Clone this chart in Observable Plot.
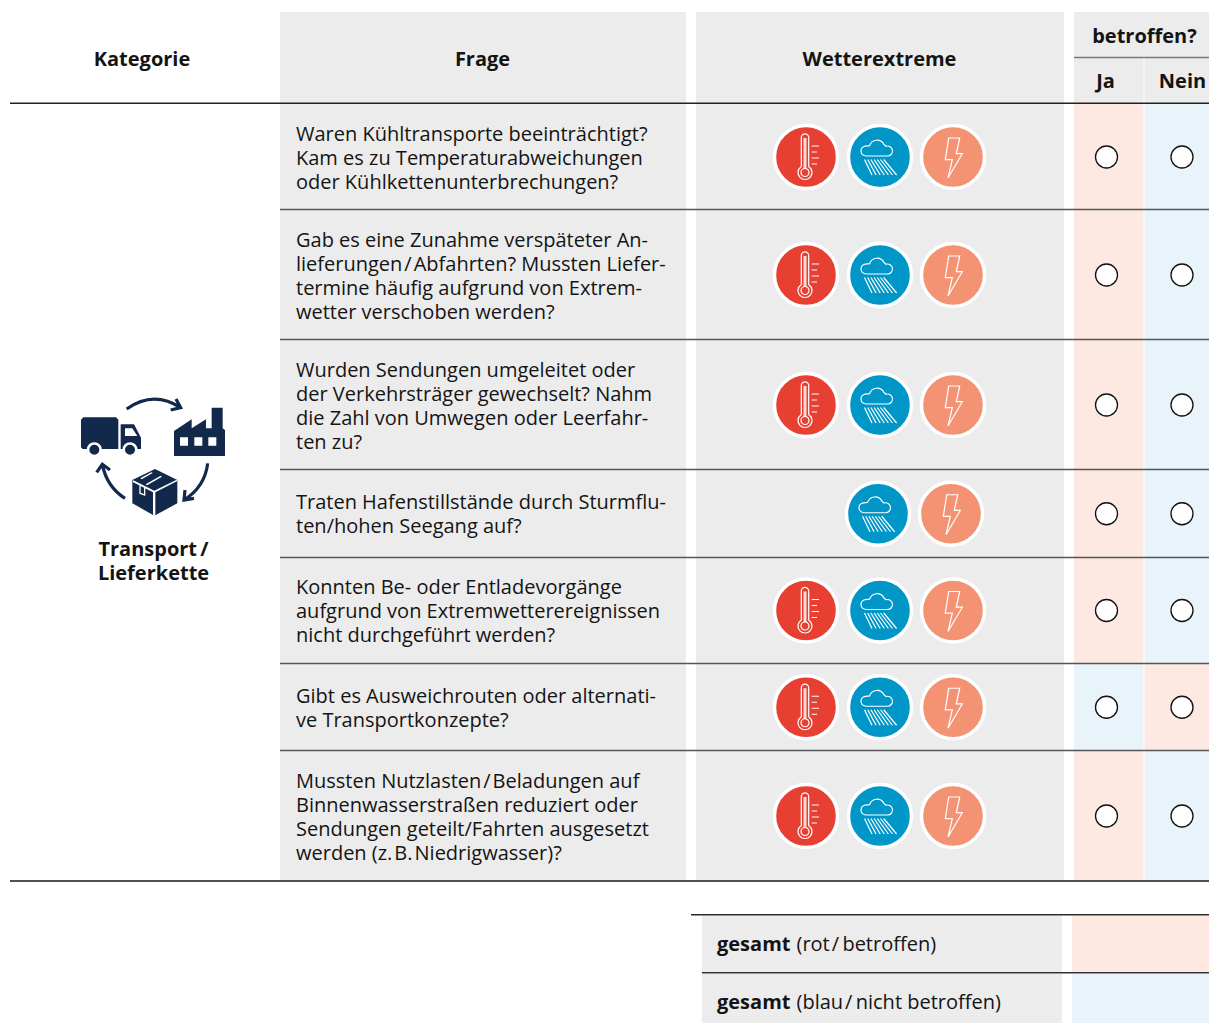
<!DOCTYPE html>
<html lang="de">
<head>
<meta charset="utf-8">
<style>html,body{margin:0;padding:0;background:#fff;overflow:hidden}svg{display:block}</style>
<script src="https://cdn.jsdelivr.net/npm/d3@7"></script>
<script src="https://cdn.jsdelivr.net/npm/@observablehq/plot@0.6"></script>
</head>
<body>
<script>
// ---- data ----
const questions = [
  "Waren Kühltransporte beeinträchtigt?\nKam es zu Temperaturabweichungen\noder Kühlkettenunterbrechungen?",
  "Gab es eine Zunahme verspäteter An-\nlieferungen\u200a/\u200aAbfahrten? Mussten Liefer-\ntermine häufig aufgrund von Extrem-\nwetter verschoben werden?",
  "Wurden Sendungen umgeleitet oder\nder Verkehrsträger gewechselt? Nahm\ndie Zahl von Umwegen oder Leerfahr-\nten zu?",
  "Traten Hafenstillstände durch Sturmflu-\nten/hohen Seegang auf?",
  "Konnten Be- oder Entladevorgänge\naufgrund von Extremwetterereignissen\nnicht durchgeführt werden?",
  "Gibt es Ausweichrouten oder alternati-\nve Transportkonzepte?",
  "Mussten Nutzlasten\u200a/\u200aBeladungen auf\nBinnenwasserstraßen reduziert oder\nSendungen geteilt/Fahrten ausgesetzt\nwerden (z.\u200aB.\u200aNiedrigwasser)?"
];
const hitze  = [1, 1, 1, 0, 1, 1, 1];
const regen  = [1, 1, 1, 1, 1, 1, 1];
const sturm  = [1, 1, 1, 1, 1, 1, 1];
const jaBetroffen = [1, 1, 1, 1, 1, 0, 1];
const columnTitles = ["Kategorie", "Frage", "Wetterextreme"];
const answerTitles = ["Ja", "Nein"];
const answerGroup = "betroffen?";
const category = "Transport\u2009/\nLieferkette";
const totals = [["gesamt", "(rot\u200a/\u2009betroffen)"], ["gesamt", "(blau\u200a/\u2009nicht betroffen)"]];

// ---- layout ----
const W = 1209, H = 1023;
const grey = "#ececec", pink = "#fde9e1", sky = "#e8f3fa", ink = "#141414", navy = "#12294b";
const rowH = {2: 87.5, 3: 106, 4: 130};
const textShift = [1, 1, 1, 0, 0, 1, 1];
let cursor = 104;
const rows = questions.map((q, i) => {
  const h = rowH[q.split("\n").length];
  const r = {i, q, y1: cursor, y2: cursor + h, cy: cursor + h / 2, rule: Math.round(cursor) - 1, ty: cursor + h / 2 + textShift[i]};
  cursor += h; return r;
});
const bottom = cursor;
const col = {cat: [10, 280], q: [280, 686], w: [696, 1064], ja: [1074, 1143.5], no: [1144.5, 1209]};
const iconX = {heat: 806, rain: 880, storm: 953};
const ansX = [1106.5, 1182];

// ---- custom glyphs, drawn at 1 px per unit ----
const sym = draw => ({draw});
const thermo = sym(c => {
  c.moveTo(-4.7, 9.5); c.lineTo(-4.7, -19.5); c.arc(-1, -19.5, 3.7, Math.PI, 0); c.lineTo(2.7, 9.5);
  c.arc(-1, 15.5, 7, -0.98, Math.PI + 0.98, false); c.closePath();
  c.moveTo(3, 15.5); c.arc(-1, 15.5, 4, 0, 2 * Math.PI);
  c.moveTo(-1.8, -19); c.lineTo(-1.8, 11.5); c.moveTo(-0.2, -19); c.lineTo(-0.2, 11.5);
  [-11, -5, 1, 7].forEach((y, k) => { c.moveTo(5.7, y); c.lineTo(k % 2 ? 11 : 13, y); });
});
const rain = sym(c => {
  c.moveTo(-14, -1); c.arc(-14, -6, 5, Math.PI / 2, Math.PI * 1.45);
  c.arc(-3, -9, 7.8, Math.PI * 1.1, Math.PI * 1.85);
  c.arc(7.5, -6, 5, Math.PI * 1.4, Math.PI / 2); c.closePath();
  for (let k = 0; k < 7; k++) { c.moveTo(-15.5 + k * 3.2, 2.5); c.lineTo(-8 + k * 4.1, 18); }
});
const bolt = sym(c => {
  [[-4.3, -19], [6.7, -19], [3.3, -3.3], [9.3, -3.3], [-5, 21], [-0.7, 2.7], [-7.7, 2.7]]
    .forEach(([x, y], k) => k ? c.lineTo(x, y) : c.moveTo(x, y));
  c.closePath();
});
// pictogram coordinates: ÷3 of the reference crop, around the anchor (255,225)
const Z = (x, y) => [(x - 255) / 3, (y - 225) / 3];
const poly = (c, pts) => { pts.forEach((p, k) => { const [x, y] = Z(...p); k ? c.lineTo(x, y) : c.moveTo(x, y); }); c.closePath(); };
const truck = sym(c => {
  poly(c, [[40, 97], [138, 97], [145, 104], [145, 192], [38, 192], [33, 187], [33, 104]]);
  poly(c, [[152, 118], [192, 118], [213, 158], [213, 192], [152, 192]]);
});
const whiteBits = sym(c => {
  // cab window, wheel wells and factory windows
  poly(c, [[165, 130], [187, 130], [202, 153], [165, 153]]);
  for (const x of [73, 180]) { const [a, b] = Z(x, 194); c.moveTo(a + 7.5, b); c.arc(a, b, 7.5, 0, 2 * Math.PI); }
  for (const x of [330, 373, 415]) poly(c, [[x, 157], [x + 24, 157], [x + 24, 182], [x, 182]]);
  // box seams and tape
  poly(c, [[190, 286], [253, 317], [320, 284], [322, 288], [256, 322], [256, 392], [249, 392], [249, 322], [188, 291]]);
  poly(c, [[227, 298], [272, 272], [276, 275], [231, 301]]);
  poly(c, [[211, 280], [244, 262], [248, 264], [215, 283]]);
  poly(c, [[208, 296], [212, 298], [212, 323], [222, 327], [222, 306], [226, 308], [226, 333], [208, 326]]);
});
const wheels = sym(c => {
  for (const x of [73, 180]) { const [a, b] = Z(x, 194); c.moveTo(a + 5, b); c.arc(a, b, 5, 0, 2 * Math.PI); }
});
const factory = sym(c => {
  poly(c, [[312, 213], [312, 138], [365, 103], [365, 130], [408, 103], [408, 130], [425, 130], [425, 68], [458, 68], [458, 130], [465, 135], [465, 213]]);
});
const box = sym(c => {
  poly(c, [[187, 285], [255, 252], [322, 285], [322, 355], [253, 392], [187, 355]]);
});
const arrows = sym(c => {
  const q = (a, b, e, h1, h2) => {
    let [x, y] = Z(...a); c.moveTo(x, y);
    const [bx, by] = Z(...b), [ex, ey] = Z(...e); c.quadraticCurveTo(bx, by, ex, ey);
    [x, y] = Z(...h1); c.moveTo(x, y); c.lineTo(ex, ey); [x, y] = Z(...h2); c.lineTo(x, y);
  };
  q([170, 72], [250, 15], [332, 68], [318, 42], [302, 75]);
  q([413, 235], [405, 305], [342, 345], [345, 315], [372, 340]);
  q([165, 340], [110, 305], [97, 238], [80, 262], [120, 255]);
});

// ---- marks ----
const band = (x, y1, y2, fill) => Plot.rect([0], {x1: x[0], x2: x[1], y1, y2, fill});
const rule = (y, x1, x2, stroke, strokeWidth) => Plot.ruleY([y], {x1, x2, stroke, strokeWidth});
const font = {fontFamily: "'Open Sans', 'Noto Sans', sans-serif", fontSize: 20, fill: ink, lineHeight: 1.2, dy: -1, dx: -0.5};
const label = (text, x, y, o = {}) => Plot.text([text], {text: d => d, x, y, ...font, ...o});
const head = {fontWeight: 700, dx: 0};
const nudge = {dx: -0.5, dy: -0.5};
const icons = (flags, x, glyph, fill, dx = 0) => {
  const data = rows.filter(r => flags[r.i]);
  const bx = r => x + (hitze[r.i] || !dx ? 0 : dx);
  return [
    Plot.dot(data, {x: bx, y: "cy", r: 31.5, fill, stroke: "#fff", strokeWidth: 3.4, ...nudge}),
    Plot.dot(data, {x: bx, y: "cy", r: 1, symbol: glyph, fill: "none", stroke: "#fff", strokeWidth: 1.2, ...nudge})
  ];
};
const pict = (glyph, o) => Plot.dot([0], {x: 155, y: 460, r: 1, symbol: glyph, ...nudge, ...o});

const chart = Plot.plot({
  width: W, height: H, margin: 0,
  x: {domain: [0, W], range: [0, W], axis: null},
  y: {domain: [0, H], range: [0, H], axis: null},
  color: {type: "identity"},
  style: {background: "#fff"},
  marks: [
    // column backgrounds
    band(col.q, 12, bottom, grey),
    band(col.w, 12, bottom, grey),
    band([col.ja[0], W], 12, 58, grey),
    band(col.ja, 58, 103, grey),
    band(col.no, 58, 103, grey),
    Plot.rect(rows, {x1: col.ja[0], x2: col.ja[1], y1: "y1", y2: "y2", fill: r => jaBetroffen[r.i] ? pink : sky}),
    Plot.rect(rows, {x1: col.no[0], x2: col.no[1], y1: "y1", y2: "y2", fill: r => jaBetroffen[r.i] ? sky : pink}),
    // totals
    band([702, 1062], 916, 972, grey),
    band([702, 1062], 974, H, grey),
    band([1072, W], 916, 972, pink),
    band([1072, W], 974, H, sky),
    // rules
    rule(57, col.ja[0], W, "#777", 1.5),
    rule(102.8, 10, W, "#222", 1.5),
    Plot.ruleY(rows.slice(1), {y: "rule", x1: 280, x2: W, stroke: "#555", strokeWidth: 1.6}),
    rule(bottom - 0.5, 10, W, "#505050", 2),
    rule(914.2, 691, W, "#2a2a2a", 1.6),
    rule(972.2, 702, W, "#333", 1.4),
    // headers
    label(columnTitles[0], 141.5, 59, head),
    label(columnTitles[1], 482, 59, head),
    label(columnTitles[2], 879, 59, head),
    label(answerGroup, 1144, 36, head),
    label(answerTitles[0], 1105, 81, head),
    label(answerTitles[1], 1182, 81, head),
    // category pictogram
    pict(arrows, {fill: "none", stroke: navy, strokeWidth: 3.2}),
    pict(truck, {fill: navy, stroke: "none"}),
    pict(factory, {fill: navy, stroke: "none"}),
    pict(box, {fill: navy, stroke: "none"}),
    pict(whiteBits, {fill: "#fff", stroke: "none"}),
    pict(wheels, {fill: navy, stroke: "none"}),
    label(category, 153.5, 561, {fontWeight: 700}),
    // questions
    Plot.text(rows, {text: "q", x: 296, y: "ty", textAnchor: "start", ...font}),
    // weather icons
    ...icons(hitze, iconX.heat, thermo, "#e83f33"),
    ...icons(regen, iconX.rain, rain, "#0096c8", -2),
    ...icons(sturm, iconX.storm, bolt, "#f39373", -2),
    // answer circles
    Plot.dot(rows, {x: ansX[0], y: "cy", r: 11, fill: "#fff", stroke: "#111", strokeWidth: 1.3, ...nudge}),
    Plot.dot(rows, {x: ansX[1], y: "cy", r: 11, fill: "#fff", stroke: "#111", strokeWidth: 1.3, ...nudge}),
    // totals text
    label(totals[0][0], 717, 944, {textAnchor: "start", fontWeight: 700}),
    label(totals[0][1], 796.5, 944, {textAnchor: "start"}),
    label(totals[1][0], 717, 1002, {textAnchor: "start", fontWeight: 700}),
    label(totals[1][1], 796.5, 1002, {textAnchor: "start"})
  ]
});
document.body.append(chart);
</script>
</body>
</html>
